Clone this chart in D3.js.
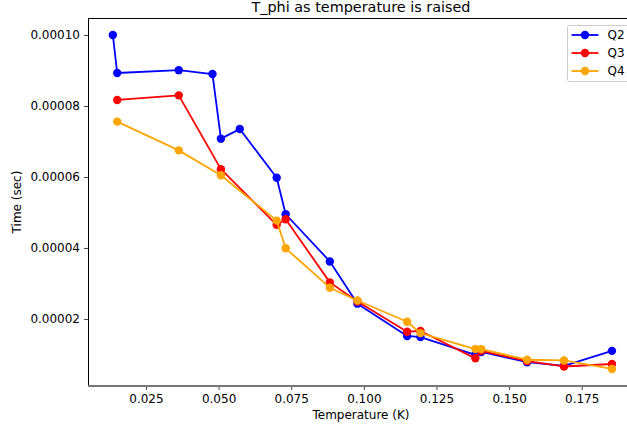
<!DOCTYPE html>
<html>
<head>
<meta charset="utf-8">
<script src="https://cdn.jsdelivr.net/npm/d3@7"></script>
<style>
  body { margin: 0; background: #fff; }
  text { font-family: "DejaVu Sans", sans-serif; fill: #000; }
</style>
</head>
<body>
<div id="chart"></div>
<script>
// data
var tempQ2 = [0.0136, 0.0151, 0.0363, 0.0479, 0.0508, 0.0573, 0.0700, 0.0731, 0.0883, 0.0978, 0.1149, 0.1195, 0.1384, 0.1404, 0.1562, 0.1689, 0.1854];
var timeQ2 = [0.0001000, 0.0000893, 0.0000901, 0.0000890, 0.0000708, 0.0000735, 0.0000598, 0.0000495, 0.0000362, 0.0000243, 0.0000152, 0.0000149, 0.0000099, 0.0000107, 0.0000078, 0.0000068, 0.0000110];

var tempQ3 = [0.0151, 0.0363, 0.0508, 0.0700, 0.0731, 0.0883, 0.0978, 0.1149, 0.1195, 0.1384, 0.1404, 0.1562, 0.1689, 0.1854];
var timeQ3 = [0.0000817, 0.0000830, 0.0000622, 0.0000465, 0.0000481, 0.0000303, 0.0000249, 0.0000164, 0.0000166, 0.0000089, 0.0000110, 0.0000081, 0.0000066, 0.0000073];

var tempQ4 = [0.0151, 0.0363, 0.0508, 0.0700, 0.0731, 0.0883, 0.0978, 0.1149, 0.1195, 0.1384, 0.1404, 0.1562, 0.1689, 0.1854];
var timeQ4 = [0.0000756, 0.0000675, 0.0000605, 0.0000477, 0.0000399, 0.0000288, 0.0000252, 0.0000192, 0.0000160, 0.0000115, 0.0000115, 0.0000085, 0.0000083, 0.0000059];

var seriesNames = ["Q2", "Q3", "Q4"];
var seriesColors = ["#0000ff", "#ff0000", "#ffa500"];
var xTicks = [0.025, 0.050, 0.075, 0.100, 0.125, 0.150, 0.175];
var yTicks = [0.00002, 0.00004, 0.00006, 0.00008, 0.00010];

var series = [
  {name: seriesNames[0], color: seriesColors[0], pts: tempQ2.map((t, i) => [t, timeQ2[i]])},
  {name: seriesNames[1], color: seriesColors[1], pts: tempQ3.map((t, i) => [t, timeQ3[i]])},
  {name: seriesNames[2], color: seriesColors[2], pts: tempQ4.map((t, i) => [t, timeQ4[i]])}
];

// axes box (right edge runs off the image like in the original)
var margin = {top: 18, left: 88},
    width = 546,
    height = 368;

var svg = d3.select("#chart").append("svg")
    .attr("width", 627)
    .attr("height", 431);

var x = d3.scaleLinear().domain([0.00505, 0.193]).range([0, width]);
var y = d3.scaleLinear().domain([0.0000011, 0.0001048]).range([height, 0]);

var g = svg.append("g")
    .attr("transform", "translate(" + margin.left + "," + margin.top + ")");

// x axis
var xAxis = g.append("g")
    .attr("transform", "translate(0," + height + ")")
    .call(d3.axisBottom(x).tickValues(xTicks).tickFormat(d3.format(".3f")).tickSizeOuter(0).tickSize(4).tickPadding(4));
xAxis.select(".domain").remove();
xAxis.selectAll("text").style("font-size", "12px").style("font-family", "DejaVu Sans");
xAxis.selectAll("line").attr("stroke", "#444");

// y axis
var yAxis = g.append("g")
    .call(d3.axisLeft(y).tickValues(yTicks).tickFormat(d3.format(".5f")).tickSizeOuter(0).tickSize(4).tickPadding(4));
yAxis.select(".domain").remove();
yAxis.selectAll("text").style("font-size", "12px").style("font-family", "DejaVu Sans");
yAxis.selectAll("line").attr("stroke", "#444");

// spines
g.append("line").attr("x1", 0.5).attr("x2", 0.5).attr("y1", 0).attr("y2", height)
    .attr("stroke", "#000").attr("stroke-width", 1);
g.append("line").attr("x1", 0).attr("x2", width).attr("y1", 0.5).attr("y2", 0.5)
    .attr("stroke", "#000").attr("stroke-width", 1);
g.append("line").attr("x1", 0).attr("x2", width).attr("y1", height).attr("y2", height)
    .attr("stroke", "#777").attr("stroke-width", 2);

// lines + markers
var line = d3.line().x(d => x(d[0])).y(d => y(d[1]));
series.forEach(function(s) {
  g.append("path")
      .datum(s.pts)
      .attr("fill", "none")
      .attr("stroke", s.color)
      .attr("stroke-width", 1.8)
      .attr("stroke-linejoin", "round")
      .attr("d", line);
  g.selectAll(null)
      .data(s.pts)
    .enter().append("circle")
      .attr("cx", d => x(d[0]))
      .attr("cy", d => y(d[1]))
      .attr("r", 4.2)
      .attr("fill", s.color);
});

// title and labels
svg.append("text")
    .attr("x", margin.left + width / 2)
    .attr("y", 11.5)
    .attr("text-anchor", "middle")
    .style("font-size", "14.4px")
    .text("T_phi as temperature is raised");

svg.append("text")
    .attr("x", margin.left + width / 2)
    .attr("y", 419)
    .attr("text-anchor", "middle")
    .style("font-size", "12px")
    .text("Temperature (K)");

svg.append("text")
    .attr("transform", "translate(21," + (margin.top + height / 2) + ") rotate(-90)")
    .attr("text-anchor", "middle")
    .style("font-size", "12px")
    .text("Time (sec)");

// legend
var leg = svg.append("g").attr("transform", "translate(567.5,25.5)");
leg.append("rect")
    .attr("width", 66).attr("height", 56)
    .attr("rx", 2)
    .attr("fill", "#fff").attr("fill-opacity", 0.8)
    .attr("stroke", "#ccc");
series.forEach(function(s, i) {
  var yy = 9.5 + i * 18;
  leg.append("line").attr("x1", 4).attr("x2", 31).attr("y1", yy).attr("y2", yy)
      .attr("stroke", s.color).attr("stroke-width", 1.8);
  leg.append("circle").attr("cx", 17.5).attr("cy", yy).attr("r", 4.2).attr("fill", s.color);
  leg.append("text").attr("x", 40).attr("y", yy + 4.3)
      .style("font-size", "12px")
      .text(s.name);
});
</script>
</body>
</html>
